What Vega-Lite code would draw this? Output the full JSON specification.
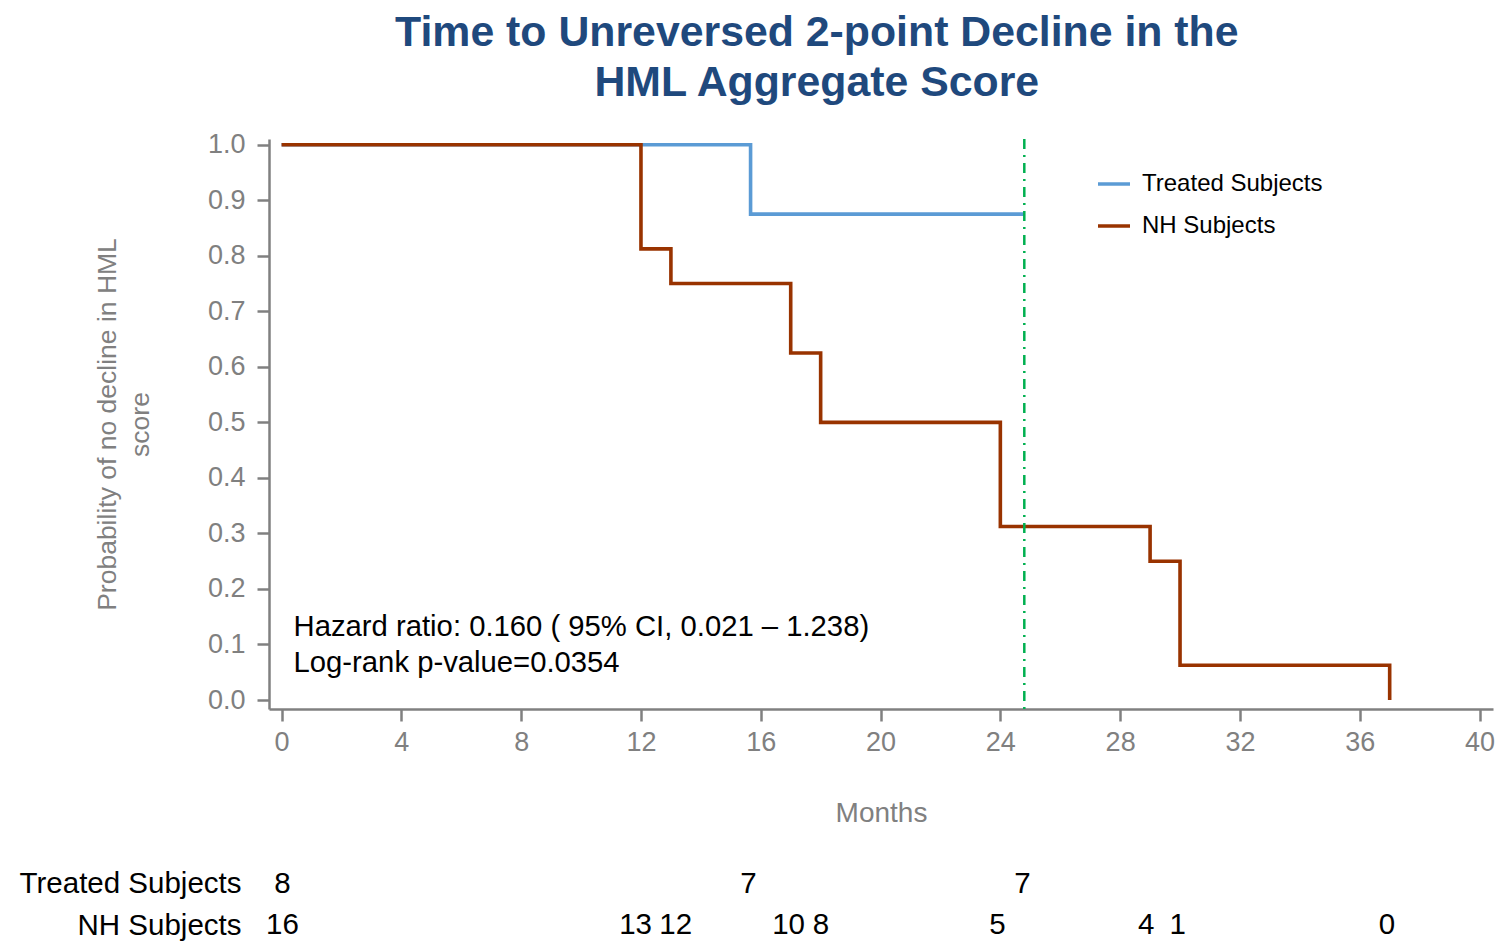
{
  "$schema": "https://vega.github.io/schema/vega-lite/v6.json",
  "padding": {"left": 19, "top": 11, "right": 5, "bottom": 5},
  "background": "white",
  "config": {"font": "Liberation Sans", "view": {"stroke": null}, "concat": {"spacing": 41}},
  "title": {
    "text": ["Time to Unreversed 2-point Decline in the", "HML Aggregate Score"],
    "fontSize": 42.8, "lineHeight": 50, "font": "Liberation Sans", "fontWeight": "bold",
    "color": "#1F497D", "anchor": "middle", "offset": 26, "dx": 60
  },
  "datasets": {
    "km": [
      {"group": "Treated Subjects", "time": 0, "surv": 1.0},
      {"group": "Treated Subjects", "time": 15.66, "surv": 0.875},
      {"group": "Treated Subjects", "time": 24.8, "surv": 0.875},
      {"group": "NH Subjects", "time": 0, "surv": 1.0},
      {"group": "NH Subjects", "time": 12, "surv": 0.8125},
      {"group": "NH Subjects", "time": 13, "surv": 0.75},
      {"group": "NH Subjects", "time": 17, "surv": 0.625},
      {"group": "NH Subjects", "time": 18, "surv": 0.5},
      {"group": "NH Subjects", "time": 24, "surv": 0.3125},
      {"group": "NH Subjects", "time": 29, "surv": 0.25},
      {"group": "NH Subjects", "time": 30, "surv": 0.0625},
      {"group": "NH Subjects", "time": 37, "surv": 0.0}
    ],
    "notes": [
      {"time": 0.4, "surv": 0.1315, "label": "Hazard ratio: 0.160 ( 95% CI, 0.021 – 1.238)"},
      {"time": 0.4, "surv": 0.0667, "label": "Log-rank p-value=0.0354"}
    ],
    "cutoff": [{"time": 24.8}],
    "risk": [
      {"group": "Treated Subjects", "time": 0.03, "n": 8},
      {"group": "Treated Subjects", "time": 15.59, "n": 7},
      {"group": "Treated Subjects", "time": 24.74, "n": 7},
      {"group": "NH Subjects", "time": 0.03, "n": 16},
      {"group": "NH Subjects", "time": 11.82, "n": 13},
      {"group": "NH Subjects", "time": 13.16, "n": 12},
      {"group": "NH Subjects", "time": 16.93, "n": 10},
      {"group": "NH Subjects", "time": 18.01, "n": 8},
      {"group": "NH Subjects", "time": 23.9, "n": 5},
      {"group": "NH Subjects", "time": 28.87, "n": 4},
      {"group": "NH Subjects", "time": 29.92, "n": 1},
      {"group": "NH Subjects", "time": 36.91, "n": 0}
    ]
  },
  "resolve": {"scale": {"x": "independent", "y": "independent"}},
  "vconcat": [
    {
      "width": 1224,
      "height": 570,
      "encoding": {
        "x": {
          "field": "time", "type": "quantitative",
          "scale": {"domain": [-0.42, 40.45], "nice": false, "zero": false},
          "axis": {
            "title": "Months", "values": [0, 4, 8, 12, 16, 20, 24, 28, 32, 36, 40],
            "grid": false, "labelFontSize": 27, "labelColor": "#808080",
            "tickColor": "#808080", "domainColor": "#808080", "tickWidth": 2.5, "domainWidth": 2.5,
            "tickSize": 12, "labelPadding": 8, "titleFontSize": 28, "titleColor": "#808080",
            "titleFontWeight": "normal", "titlePadding": 44
          }
        },
        "y": {
          "field": "surv", "type": "quantitative",
          "scale": {"domain": [-0.0162, 1.0103], "nice": false, "zero": false},
          "axis": {
            "title": ["Probability of no decline in HML", "score"],
            "values": [0, 0.1, 0.2, 0.3, 0.4, 0.5, 0.6, 0.7, 0.8, 0.9, 1.0], "format": ".1f",
            "grid": false, "labelFontSize": 27, "labelColor": "#808080",
            "tickColor": "#808080", "domainColor": "#808080", "tickWidth": 2.5, "domainWidth": 2.5,
            "tickSize": 12, "labelPadding": 12, "titleFontSize": 26.5, "titleColor": "#808080",
            "titleFontWeight": "normal", "titleLineHeight": 33, "titlePadding": 53
          }
        }
      },
      "layer": [
        {
          "data": {"name": "km"},
          "transform": [{"filter": "datum.group === 'Treated Subjects'"}],
          "mark": {"type": "line", "interpolate": "step-after", "strokeWidth": 3.6},
          "encoding": {
            "color": {
              "field": "group", "type": "nominal",
              "scale": {"domain": ["Treated Subjects", "NH Subjects"], "range": ["#5B9BD5", "#993300"]},
              "legend": {
                "orient": "none", "legendX": 827, "legendY": 27, "title": null,
                "symbolType": "stroke", "symbolSize": 1024, "symbolStrokeWidth": 3.5,
                "labelFontSize": 24, "labelColor": "black", "labelOffset": 10, "labelLimit": 0,
                "rowPadding": 12, "padding": 0
              }
            }
          }
        },
        {
          "data": {"name": "km"},
          "transform": [{"filter": "datum.group === 'NH Subjects'"}],
          "mark": {"type": "line", "interpolate": "step-after", "strokeWidth": 3.6},
          "encoding": {
            "color": {"field": "group", "type": "nominal"}
          }
        },
        {
          "data": {"name": "cutoff"},
          "mark": {"type": "rule", "color": "#00B050", "strokeWidth": 2.5, "strokeDash": [10, 6, 2, 6]},
          "encoding": {"x": {"field": "time", "type": "quantitative"}, "y": null}
        },
        {
          "data": {"name": "notes"},
          "mark": {"type": "text", "align": "left", "baseline": "middle", "fontSize": 29.25, "color": "black"},
          "encoding": {"text": {"field": "label"}}
        }
      ]
    },
    {
      "width": 1224,
      "height": 67,
      "data": {"name": "risk"},
      "mark": {"type": "text", "fontSize": 29.5, "color": "black", "baseline": "middle", "align": "center"},
      "encoding": {
        "x": {
          "field": "time", "type": "quantitative",
          "scale": {"domain": [-0.42, 40.45], "nice": false, "zero": false},
          "axis": null
        },
        "y": {
          "field": "group", "type": "nominal",
          "sort": ["Treated Subjects", "NH Subjects"],
          "scale": {"type": "point", "padding": 0.3},
          "axis": {
            "title": null, "domain": false, "ticks": false, "labelFontSize": 29.5,
            "labelColor": "black", "labelPadding": 28, "labelLimit": 0
          }
        },
        "text": {"field": "n", "type": "quantitative", "format": "d"}
      }
    }
  ]
}
